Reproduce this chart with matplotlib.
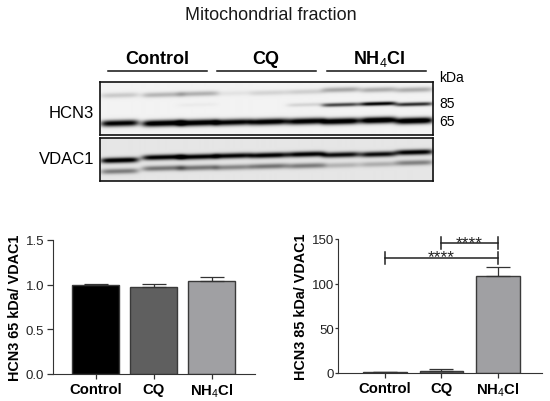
import numpy as np
import matplotlib
matplotlib.use('Agg')
import matplotlib.pyplot as plt

plt.rcParams['font.family'] = ['Liberation Sans', 'DejaVu Sans']
plt.rcParams['mathtext.fontset'] = 'custom'
plt.rcParams['mathtext.rm'] = 'Liberation Sans'
plt.rcParams['mathtext.bf'] = 'Liberation Sans:bold'

W, H = 550, 402
NH4CL = r'$\mathbf{NH}_{\mathrm{4}}\mathbf{Cl}$'
groups = ['Control', 'CQ', NH4CL]

# bar data
ratio65 = [1.00, 0.97, 1.04]
err65 = [0.01, 0.04, 0.045]
ratio85 = [1.0, 2.5, 109]
err85 = [0.3, 2.2, 10]
bar_colors = ['#000000', '#5f5f5f', '#a0a0a3']

# blot lanes (pixels in the figure) and band darkness per lane
lane_x = [119, 162, 197, 232, 268, 305, 340, 377, 413]
lane_w = [19, 21, 20, 19, 19, 19, 19, 18, 19]
hcn65_y = [124, 124, 123.5, 123, 122.5, 122, 122, 121, 121.5]
hcn65_dark = [1.0, 1.1, 1.1, 1.0, 1.05, 1.05, 1.1, 1.15, 1.15]
hcn85_y = [105.5, 105.5, 105.5, 105.5, 105.5, 105.5, 105.5, 104.5, 105]
hcn85_dark = [0.0, 0.0, 0.03, 0.0, 0.0, 0.12, 0.7, 1.0, 0.8]
upper_y = [96, 95.5, 94.5, 94, 93.5, 92.5, 90.5, 90.5, 90.5]
upper_dark = [0.16, 0.24, 0.26, 0.06, 0.12, 0.14, 0.30, 0.28, 0.28]
vdac_top_y = [161, 158, 157.5, 156.5, 156, 155, 155.5, 155, 153]
vdac_top_dark = [1.0, 0.95, 0.95, 0.92, 0.95, 0.95, 0.88, 0.88, 0.95]
vdac_low_y = [172, 169, 168.5, 168, 167, 166.5, 166, 165, 163.5]
vdac_low_dark = [0.42, 0.45, 0.45, 0.38, 0.45, 0.42, 0.2, 0.22, 0.4]


def axes_px(left, top, right, bottom):
    return fig.add_axes([left / W, 1 - bottom / H, (right - left) / W, (bottom - top) / H])


def blot(top, bottom, bands, background):
    # bands: (y centres, darkness, half thickness)
    ax = axes_px(99.5, top, 433, bottom)
    xs = np.arange(99.5, 433, 0.5)
    ys = np.arange(top, bottom, 0.5)
    X, Y = np.meshgrid(xs, ys)
    dark = np.full(X.shape, background)
    for yc, d, t in bands:
        for lx, lw, yy, dd in zip(lane_x, lane_w, yc, d):
            across = np.exp(-((X - lx) / lw) ** 6)
            slope = (X - lx) * 0.025
            dark += dd * across * np.exp(-((Y - yy + slope) / t) ** 2)
    ax.imshow(1 - np.clip(dark, 0, 1), cmap='gray', vmin=0, vmax=1, aspect='auto',
              extent=[99.5, 433, bottom, top], interpolation='bilinear')
    ax.set_xticks([])
    ax.set_yticks([])
    for s in ax.spines.values():
        s.set_linewidth(1.2)
        s.set_color('#111111')


def barchart(ax, vals, errs, width, ymax, yticks, ylabel, xlim, labelx, ticklen, tickpad):
    ax.bar(range(3), vals, width, color=bar_colors, edgecolor='#3a3a3a', linewidth=1.0)
    ax.errorbar(range(3), vals, yerr=[[0, 0, 0], errs], fmt='none', ecolor='#333333',
                elinewidth=0.9, capsize=8.5, capthick=0.9)
    ax.set_xlim(*xlim)
    ax.set_ylim(0, ymax)
    ax.set_yticks(yticks)
    ax.set_xticks(range(3))
    ax.set_xticklabels(groups, fontsize=10.7, fontweight='bold')
    ax.tick_params(axis='y', labelsize=9.5, length=ticklen, width=0.9, color='#333333', pad=tickpad,
                   labelcolor='#222222')
    ax.tick_params(axis='x', length=3.5, width=0.9, color='#333333', pad=2)
    ax.spines['top'].set_visible(False)
    ax.spines['right'].set_visible(False)
    ax.spines['left'].set_color('#333333')
    ax.spines['bottom'].set_color('#333333')
    ax.set_ylabel(ylabel, fontsize=10.4, fontweight='bold')
    ax.yaxis.set_label_coords(labelx, 0.5)


fig = plt.figure(figsize=(W / 100, H / 100), dpi=100)

# overlay in pixel coordinates for the labels round the blots
bg = fig.add_axes([0, 0, 1, 1])
bg.set_xlim(0, W)
bg.set_ylim(H, 0)
bg.axis('off')

bg.text(271, 15, 'Mitochondrial fraction', fontsize=13, ha='center', va='center', color='#1a1a1a')
for lbl, x0, x1, cx in zip(groups, [108, 217, 327], [207, 316, 426], [157, 266, 379]):
    bg.plot([x0, x1], [72, 72], color='#111111', lw=1.1)
    bg.text(cx, 59, lbl, fontsize=13, fontweight='bold', ha='center', va='center')
bg.text(439, 77.5, 'kDa', fontsize=10, va='center')
bg.text(439, 104, '85', fontsize=10, va='center')
bg.text(439, 122.5, '65', fontsize=10, va='center')
bg.text(94, 114, 'HCN3', fontsize=12, ha='right', va='center')
bg.text(94, 160, 'VDAC1', fontsize=12, ha='right', va='center')

blot(83, 136, [(hcn65_y, hcn65_dark, 3.2), (hcn85_y, hcn85_dark, 1.9), (upper_y, upper_dark, 2.6)], 0.05)
blot(139, 182, [(vdac_top_y, vdac_top_dark, 2.7), (vdac_low_y, vdac_low_dark, 2.7)], 0.10)

ax1 = axes_px(53, 241, 255, 375)
barchart(ax1, ratio65, err65, 0.81, 1.5, [0, 0.5, 1.0, 1.5], 'HCN3 65 kDa/ VDAC1', (-0.733, 2.75), -0.155, 4.5, 2)
ax1.set_yticklabels(['0.0', '0.5', '1.0', '1.5'])

ax2 = axes_px(338, 240, 542, 374)
barchart(ax2, ratio85, err85, 0.77, 150, [0, 50, 100, 150], 'HCN3 85 kDa/ VDAC1', (-0.83, 2.78), -0.147, 2.5, 0.5)

# significance brackets
for x0, y, d in [(1, 145.5, 6.5), (0, 129, 6.5)]:
    ax2.plot([x0, 2], [y, y], color='#222222', lw=1.1, clip_on=False)
    ax2.plot([x0, x0], [y - d, y + d], color='#222222', lw=1.1, clip_on=False)
    ax2.plot([2, 2], [y - d, y + d], color='#222222', lw=1.1, clip_on=False)
    ax2.text((x0 + 2) / 2, y - 7.5, '****', fontsize=12.5, ha='center', va='bottom',
             color='#222222')

fig.savefig('out.png', dpi=100)
